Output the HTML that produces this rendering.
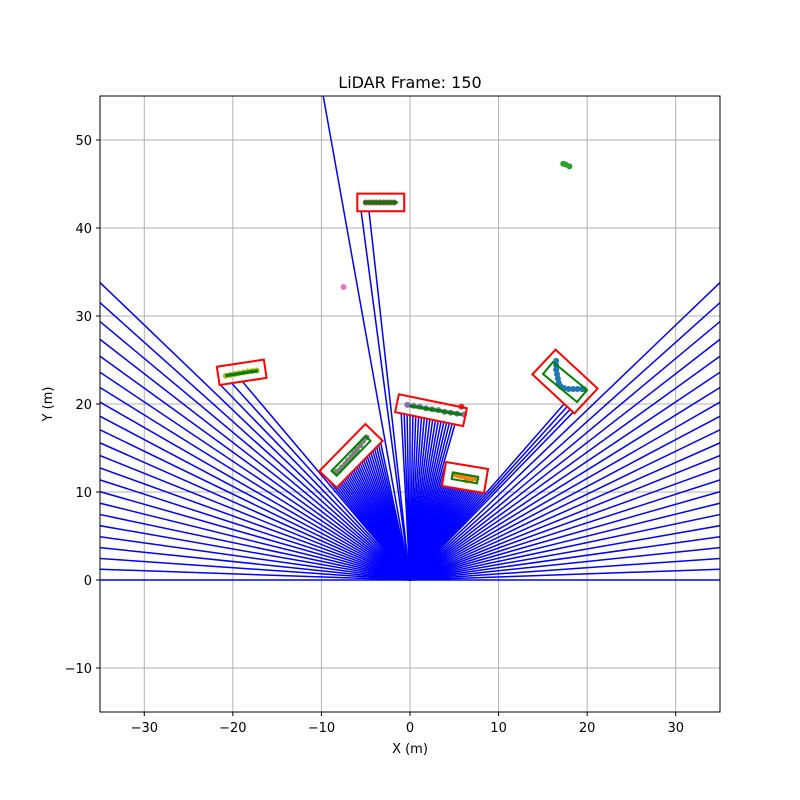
<!DOCTYPE html>
<html><head><meta charset="utf-8">
<style>
body{margin:0;background:#fff;}
svg{display:block;font-family:"DejaVu Sans","Liberation Sans",sans-serif;}
</style></head>
<body>
<svg id="chart" width="800" height="800" viewBox="0 0 800 800">
<defs><clipPath id="clip"><rect x="100" y="96" width="620" height="616"/></clipPath></defs>
<rect x="0" y="0" width="800" height="800" fill="#fff"/>
<g id="grid"></g>
<g id="rays" clip-path="url(#clip)"></g>
<g id="pts" clip-path="url(#clip)"></g>
<g id="boxes" clip-path="url(#clip)"></g>
<rect x="100" y="96" width="620" height="616" fill="none" stroke="#000" stroke-width="1"/>
<g id="ticks"></g>
<text x="410" y="88" font-size="16" text-anchor="middle">LiDAR Frame: 150</text>
<text x="410" y="753" font-size="13" text-anchor="middle">X (m)</text>
<text x="52" y="404" font-size="13" text-anchor="middle" transform="rotate(-90 52 404)">Y (m)</text>
</svg>
<script>
const xTicks=[-30,-20,-10,0,10,20,30];
const yTicks=[-10,0,10,20,30,40,50];
// red detection boxes
const boxCx=[-3.3,-19.0,-6.66,2.37,6.21,17.5];
const boxCy=[42.9,23.6,14.1,19.3,11.65,22.56];
const boxLen=[5.3,5.37,7.45,7.84,4.81,6.49];
const boxWid=[2.0,2.1,2.72,2.07,2.77,3.85];
const boxHead=[0,8.6,45.8,-11.7,-9.5,-43];
// green inner boxes
const gCx=[-3.3,-19.0,-6.66,2.9,6.2,17.5];
const gCy=[42.9,23.5,14.1,19.3,11.6,22.5];
const gLen=[3.6,3.5,5.5,5.8,2.9,4.99];
const gWid=[0.1,0.15,0.8,0.15,0.75,1.77];
const gHead=[0,8.6,46,-9.5,-10,-39.6];
// rays (angles in degrees)
const fanAngles=[0,2,4,6,8,10,12,14,16,18,20,22,24,26,28,30,32,34,36,38,40,42,44,136,138,140,142,144,146,148,150,152,154,156,158,160,162,164,166,168,170,172,174,176,178,180];
const centerAngles=[46,47,48,49,50,51,52,53,54,55,56,57,58,59,60,61,62,63,64,65,66,67,68,69,70,71,72,73,74,75,76,77,78,79,80,81,82,83,84,85,86,87,88,89,90,91,92,93,96.3,97.5,100.1,102,103,104,105,106,107,108,109,110,111,112,113,114,115,116,117,118,119,120,121,122,123,124,125,126,127,128,129,130,132,134];
const maxRange=100;
// point clusters
const clusterColors=["#8c564b","#bcbd22","#7f7f7f","#9467bd","#ff7f0e","#1f77b4","#2ca02c","#e377c2","#d62728"];
const clusterX=[
 [-5,-4.6,-4.2,-3.8,-3.4,-3.0,-2.6,-2.2,-1.8],
 [-20.8,-20.3,-19.8,-19.3,-18.8,-18.3,-17.8,-17.3],
 [-8.3,-8.0,-7.7,-7.3,-7.0,-6.6,-6.3,-6.0,-5.6,-5.3,-4.9],
 [-0.3,0.4,1.1,1.8,2.5,3.2,3.9,4.6,5.3,6.1],
 [5.0,5.4,5.8,6.2,6.6,7.0,7.5,6.4],
 [16.5,16.5,16.5,16.6,16.7,16.8,17.0,17.4,17.9,18.4,18.9,19.4,19.6],
 [17.3,17.6,18.0],
 [-7.5],
 [5.8]];
const clusterY=[
 [42.9,42.9,42.9,42.9,42.9,42.9,42.9,42.9,42.9],
 [23.2,23.3,23.4,23.5,23.6,23.7,23.75,23.8],
 [12.3,12.4,12.8,13.2,13.6,14.0,14.4,14.8,15.3,15.8,16.2],
 [19.9,19.8,19.7,19.5,19.4,19.3,19.1,19.0,18.9,18.8],
 [12.0,11.9,11.8,11.7,11.6,11.5,11.5,11.3],
 [24.9,24.4,23.9,23.4,22.9,22.4,22.0,21.8,21.7,21.7,21.7,21.7,21.7],
 [47.3,47.2,47.0],
 [33.3],
 [19.7]];

const NS="http://www.w3.org/2000/svg";
const X=x=>100+(x+35)*620/70;
const Y=y=>96+(55-y)*616/70;
function mk(tag,attrs,parent){const e=document.createElementNS(NS,tag);for(const k in attrs)e.setAttribute(k,attrs[k]);parent.appendChild(e);return e;}
const grid=document.getElementById('grid'),ticks=document.getElementById('ticks');
xTicks.forEach(t=>{
 const l=mk('line',{x1:X(t),x2:X(t),y1:96,y2:712,stroke:'#b0b0b0','stroke-width':1},grid);
 
 
 const tk=mk('line',{x1:X(t),x2:X(t),y1:712,y2:716,stroke:'#000'},ticks);
 
 
 const tx=mk('text',{x:X(t),y:732,'font-size':13,'text-anchor':'middle'},ticks);
 tx.textContent=(t<0?'\u2212'+(-t):t);
 
 
});
yTicks.forEach(t=>{
 const l=mk('line',{x1:100,x2:720,y1:Y(t),y2:Y(t),stroke:'#b0b0b0','stroke-width':1},grid);
 
 
 const tk=mk('line',{x1:96,x2:100,y1:Y(t),y2:Y(t),stroke:'#000'},ticks);
 
 
 const tx=mk('text',{x:92,y:Y(t)+5,'font-size':13,'text-anchor':'end'},ticks);
 tx.textContent=(t<0?'\u2212'+(-t):t);
 
 
});
function corners(cx,cy,L,W,h){
 const a=h*Math.PI/180,c=Math.cos(a),s=Math.sin(a);
 return [[L/2,W/2],[-L/2,W/2],[-L/2,-W/2],[L/2,-W/2]].map(([u,v])=>[cx+u*c-v*s,cy+u*s+v*c]);
}
const redPolys=boxCx.map((_,i)=>corners(boxCx[i],boxCy[i],boxLen[i],boxWid[i],boxHead[i]));
function hit(angle){
 const a=angle*Math.PI/180,dx=Math.cos(a),dy=Math.sin(a);let best=Infinity;
 redPolys.forEach(p=>{for(let k=0;k<4;k++){const [x1,y1]=p[k],[x2,y2]=p[(k+1)%4];
  const ex=x2-x1,ey=y2-y1,den=dx*ey-dy*ex;if(Math.abs(den)<1e-9)continue;
  const t=(x1*ey-y1*ex)/den,u=(x1*dy-y1*dx)/den;
  if(t>0&&u>=0&&u<=1&&t<best)best=t;}});
 return best;
}
const rays=document.getElementById('rays');
function drawRay(ang,r){
 const a=ang*Math.PI/180;
 const l=mk('line',{x1:X(0),y1:Y(0),x2:X(r*Math.cos(a)),y2:Y(r*Math.sin(a)),stroke:'#0000ff','stroke-width':1.5},rays);
 
 
}
fanAngles.forEach(a=>{const h=hit(a);drawRay(a,isFinite(h)?h:maxRange);});
centerAngles.forEach(a=>{const h=hit(a);drawRay(a,isFinite(h)?h:maxRange);});
const pts=document.getElementById('pts');
clusterX.forEach((xs,i)=>{
 xs.forEach((x,j)=>{
  const c=mk('circle',{cx:X(x),cy:Y(clusterY[i][j]),r:3,fill:clusterColors[i]},pts);
  
  
 });
});
const boxes=document.getElementById('boxes');
redPolys.forEach(p=>{
 const e=mk('polygon',{points:p.map(q=>X(q[0])+','+Y(q[1])).join(' '),fill:'none',stroke:'#ff0000','stroke-width':2},boxes);
 
 
});
gCx.forEach((_,i)=>{
 const p=corners(gCx[i],gCy[i],gLen[i],gWid[i],gHead[i]);
 const e=mk('polygon',{points:p.map(q=>X(q[0])+','+Y(q[1])).join(' '),fill:'none',stroke:'#008000','stroke-width':2},boxes);
 
 
});
</script>
</body></html>
